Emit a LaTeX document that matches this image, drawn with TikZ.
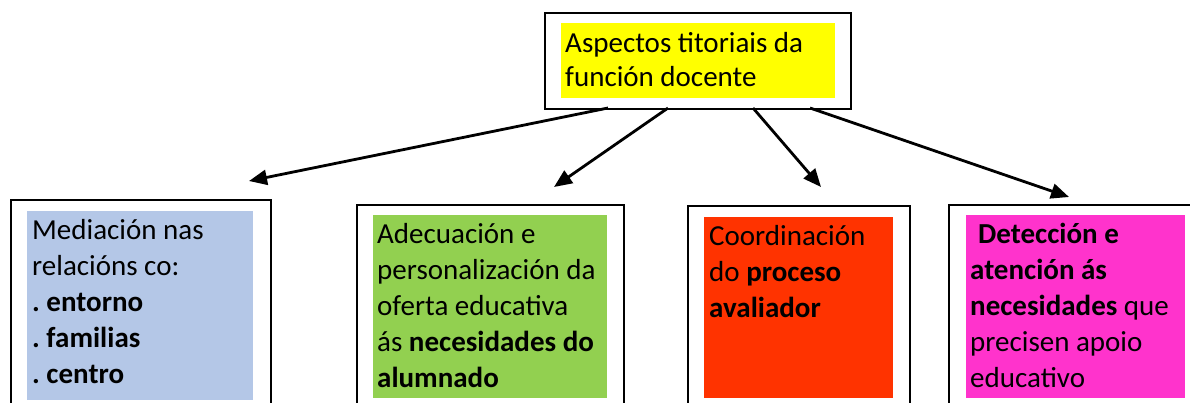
\documentclass[tikz,border=0pt]{standalone}
\usepackage{fontspec}
\setmainfont{Carlito}
\usetikzlibrary{arrows.meta}
\definecolor{cyel}{HTML}{FFFF00}
\definecolor{cblue}{HTML}{B4C7E7}
\definecolor{cgreen}{HTML}{92D050}
\definecolor{cred}{HTML}{FF3300}
\definecolor{cmag}{HTML}{FF33CC}
\frenchspacing
\begin{document}
\begin{tikzpicture}[x=1pt,y=-1pt,
  frame/.style={draw=black, line width=2pt, fill=white, anchor=north west, inner sep=0pt},
  panel/.style={draw=none, fill=#1, anchor=north west, inner sep=0pt},
  txt/.style={anchor=north west, inner sep=0pt, align=left, font=\frenchspacing\fontsize{29}{36}\selectfont},
  toptxt/.style={anchor=north west, inner sep=0pt, align=left, font=\fontsize{29}{34}\selectfont},
  link/.style={line width=2.8pt, -{Triangle[length=18pt,width=15pt]}}
]
\useasboundingbox (0,0) rectangle (1190,402);
% top box
\node[frame, minimum width=306pt, minimum height=96pt] (top) at (544,12) {};
\node[panel=cyel, minimum width=274pt, minimum height=75pt] (topfill) at (561,23) {};
\node[toptxt] (toptext) at (565,29) {\rule{0pt}{23pt}Aspectos titoriais da\\función docente};
% box 1
\node[frame, minimum width=260pt, minimum height=230pt] (b1) at (10,199) {};
\node[panel=cblue, minimum width=226pt, minimum height=189pt] (f1) at (27,211) {};
\node[txt] (t1) at (32,216) {\rule{0pt}{23pt}Mediación nas\\relacións co:\\\textbf{. entorno}\\\textbf{. familias}\\\textbf{. centro}};
% box 2
\node[frame, minimum width=267pt, minimum height=230pt] (b2) at (356,204) {};
\node[panel=cgreen, minimum width=234pt, minimum height=183pt] (f2) at (373,215) {};
\node[txt] (t2) at (377,220) {\rule{0pt}{23pt}Adecuación e\\personalización da\\oferta educativa\\ás \textbf{necesidades do}\\\textbf{alumnado}};
% box 3
\node[frame, minimum width=222pt, minimum height=230pt] (b3) at (687,205) {};
\node[panel=cred, minimum width=189pt, minimum height=181pt] (f3) at (704,217) {};
\node[txt] (t3) at (709,222) {\rule{0pt}{23pt}Coordinación\\do \textbf{proceso}\\\textbf{avaliador}};
% box 4
\node[frame, minimum width=260pt, minimum height=230pt] (b4) at (948,204) {};
\node[panel=cmag, minimum width=219pt, minimum height=183pt] (f4) at (966,215) {};
\node[txt] (t4) at (970,220) {\rule{0pt}{23pt}\hspace{8pt}\textbf{Detección e}\\\textbf{atención ás}\\\textbf{necesidades} que\\precisen apoio\\educativo};
% arrows
\coordinate (s1) at (608,108);
\coordinate (s2) at (668,108);
\coordinate (s3) at (753,108);
\coordinate (s4) at (810,108);
\coordinate (e1) at (249,181);
\coordinate (e2) at (554,187);
\coordinate (e3) at (821,187);
\coordinate (e4) at (1069,197);
\draw[link] (s1) -- (e1);
\draw[link] (s2) -- (e2);
\draw[link] (s3) -- (e3);
\draw[link] (s4) -- (e4);
\end{tikzpicture}
\end{document}
